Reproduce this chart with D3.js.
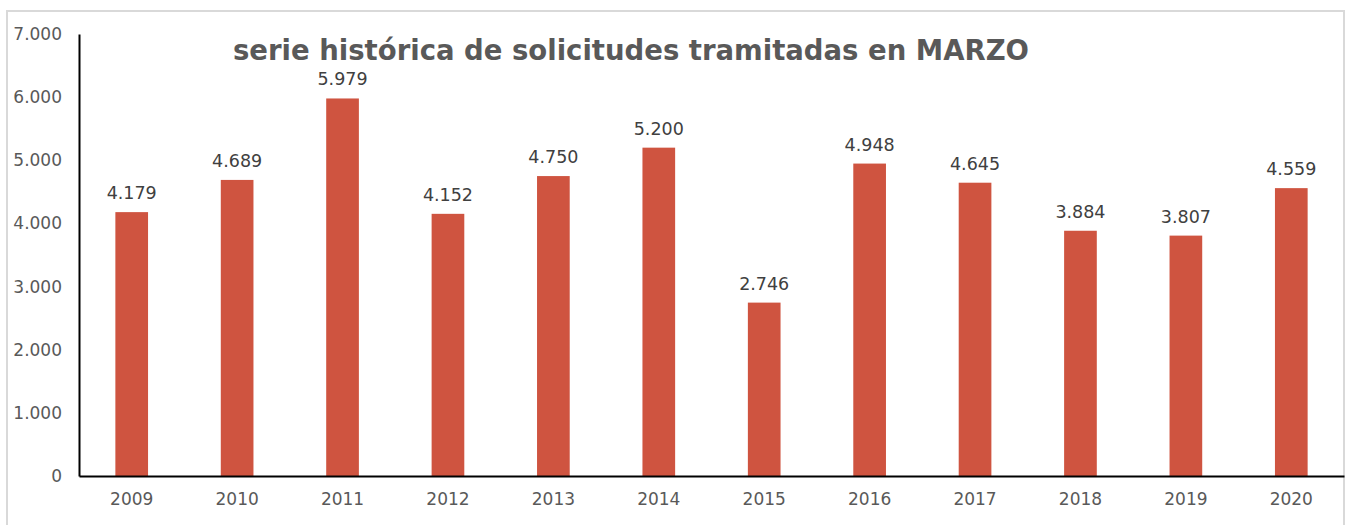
<!DOCTYPE html>
<html>
<head>
<meta charset="utf-8">
<script src="https://cdn.jsdelivr.net/npm/d3@7"></script>
<style>
  html, body { margin: 0; padding: 0; background: #fff; }
  svg { display: block; font-family: "DejaVu Sans", Verdana, sans-serif; }
</style>
</head>
<body>
<svg id="chart" width="1350" height="525"></svg>
<script>
// Solicitudes tramitadas en marzo, 2009-2020
const years = ['2009', '2010', '2011', '2012', '2013', '2014', '2015', '2016', '2017', '2018', '2019', '2020'];
const solicitudes = [4179, 4689, 5979, 4152, 4750, 5200, 2746, 4948, 4645, 3884, 3807, 4559];
const yTicks = [0, 1000, 2000, 3000, 4000, 5000, 6000, 7000];
const title = 'serie histórica de solicitudes tramitadas en MARZO';

const svg = d3.select('#chart');
const margin = { top: 34, left: 79, right: 6, bottom: 49 };
const width = 1350 - margin.left - margin.right;
const height = 525 - margin.top - margin.bottom;
const FONT = '"DejaVu Sans", Verdana, sans-serif';

// marco gris del gráfico
svg.append('rect')
  .attr('x', 7).attr('y', 11)
  .attr('width', 1337).attr('height', 530)
  .attr('fill', 'none')
  .attr('stroke', '#d9d9d9')
  .attr('stroke-width', 2);

const g = svg.append('g').attr('transform', `translate(${margin.left},${margin.top})`);

const x = d3.scaleBand().domain(years).range([0, width]).paddingInner(0.69).paddingOuter(0.345);
const y = d3.scaleLinear().domain([0, 7000]).range([height, 0]);
const fmt = (v) => d3.format(',')(v).replace(/,/g, '.');

// eje Y
const yAxis = g.append('g')
  .call(d3.axisLeft(y).tickValues(yTicks).tickFormat(fmt).tickSize(0).tickPadding(17))
  .attr('font-family', FONT)
  .attr('font-size', 17);
yAxis.select('.domain').attr('stroke', '#000').attr('stroke-width', 2);
yAxis.selectAll('text').attr('fill', '#595959');

// barras
g.selectAll('.bar')
  .data(years)
  .join('rect')
  .attr('class', 'bar')
  .attr('x', (d) => x(d))
  .attr('y', (d, i) => y(solicitudes[i]))
  .attr('width', x.bandwidth())
  .attr('height', (d, i) => height - y(solicitudes[i]))
  .attr('fill', '#cf5440');

// etiquetas de valor
g.selectAll('.val')
  .data(years)
  .join('text')
  .attr('class', 'val')
  .attr('x', (d) => x(d) + x.bandwidth() / 2)
  .attr('y', (d, i) => y(solicitudes[i]) - 13)
  .attr('text-anchor', 'middle')
  .attr('fill', '#404040')
  .attr('font-size', 17.5)
  .text((d, i) => fmt(solicitudes[i]));

// eje X
const xAxis = g.append('g')
  .attr('transform', `translate(0,${height})`)
  .call(d3.axisBottom(x).tickSize(0).tickPadding(17))
  .attr('font-family', FONT)
  .attr('font-size', 17);
xAxis.select('.domain').attr('stroke', '#000').attr('stroke-width', 2);
xAxis.selectAll('text').attr('fill', '#595959');

// título
svg.append('text')
  .attr('x', 631)
  .attr('y', 60)
  .attr('text-anchor', 'middle')
  .attr('fill', '#595959')
  .attr('font-size', 27.5)
  .attr('font-weight', 'bold')
  .text(title);
</script>
</body>
</html>
